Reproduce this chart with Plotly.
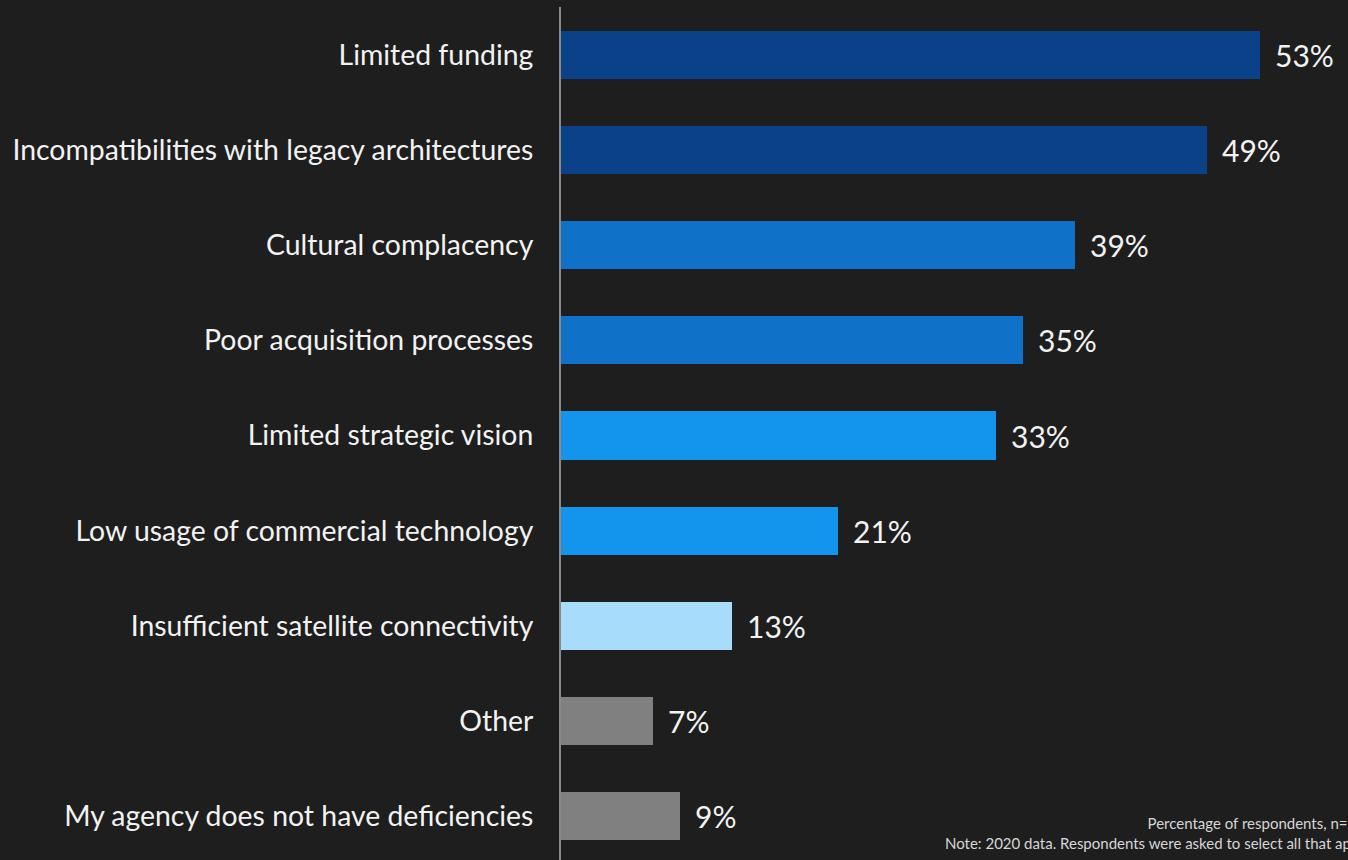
import plotly.graph_objects as go

# Survey responses: deficiencies in agency technology capability
categories = [
    "Limited funding",
    "Incompatibilities with legacy architectures",
    "Cultural complacency",
    "Poor acquisition processes",
    "Limited strategic vision",
    "Low usage of commercial technology",
    "Insufficient satellite connectivity",
    "Other",
    "My agency does not have deficiencies",
]
values = [53, 49, 39, 35, 33, 21, 13, 7, 9]
bar_colors = [
    "#0a4188", "#0a4188",
    "#0f72c8", "#0f72c8",
    "#1395ee", "#1395ee",
    "#a8dcfb",
    "#808080", "#808080",
]
note_lines = [
    "Percentage of respondents, n=300",
    "Note: 2020 data. Respondents were asked to select all that apply.",
]

FONT = "Lato, 'Source Sans Pro', 'Noto Sans', sans-serif"
BG = "#1e1e1e"
L_MARGIN = 561
W, H = 1348, 860

fig = go.Figure()
fig.add_trace(go.Bar(
    x=values,
    y=categories,
    orientation="h",
    width=0.505,
    marker=dict(color=bar_colors, line=dict(width=0)),
    hoverinfo="skip",
))

# value labels to the right of each bar
for cat, v in zip(categories, values):
    fig.add_annotation(
        x=v, y=cat, xref="x", yref="y",
        text=f"{v}%", showarrow=False,
        xanchor="left", yanchor="middle", xshift=13,
        font=dict(family=FONT, size=30, color="#f2f2f2"),
    )

# footnote in the lower right
fig.add_annotation(
    x=(1376 - L_MARGIN) / (W - L_MARGIN), y=0.0, xref="paper", yref="paper",
    text="<br>".join(note_lines), showarrow=False,
    xanchor="right", yanchor="bottom", align="right", yshift=6,
    font=dict(family=FONT, size=15, color="#d6d6d6"),
)

fig.update_layout(
    width=W, height=H,
    margin=dict(l=L_MARGIN, r=0, t=7, b=0),
    paper_bgcolor=BG, plot_bgcolor=BG,
    showlegend=False,
    bargap=0,
    xaxis=dict(
        range=[0, 59.67],
        showgrid=False, zeroline=False, showticklabels=False,
        showline=False, fixedrange=True,
    ),
    yaxis=dict(
        type="category",
        range=[8.463, -0.505],
        showgrid=False, zeroline=False,
        showline=True, linecolor="#8a8a8a", linewidth=2,
        ticks="", ticklabelstandoff=20,
        tickfont=dict(family=FONT, size=28.4, color="#f2f2f2"),
        fixedrange=True,
    ),
)

fig.write_html("out.html")
